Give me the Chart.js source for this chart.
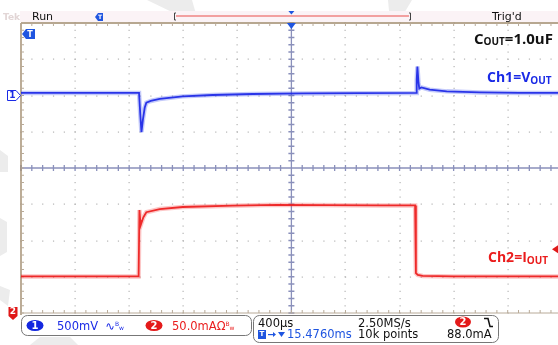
<!DOCTYPE html>
<html>
<head>
<meta charset="utf-8">
<script src="https://cdn.jsdelivr.net/npm/chart.js@4.4.1/dist/chart.umd.min.js"></script>
<style>
  html, body { margin: 0; padding: 0; background: #fff; }
  #scope_chart { display: block; }
</style>
</head>
<body>
<canvas id="scope_chart" width="558" height="345"></canvas>
<script>
// time is in microseconds from screen centre, 400 us/div
// Ch1 = V_OUT in mV (500 mV/div), Ch2 = I_OUT in mA (50 mA/div)

const ch1_time_us = [-2000, -1127, -1118, -1109, -1098, -1085, -1073, -1040, -974, -804, -582, -286, 84, 922, 927, 932, 940, 946, 961, 1023, 1149, 1393, 1688, 1972]
const ch1_mv = [35, 35, -250, -505, -330, -170, -100, -75, -48, -12, 7, 21, 29, 35, 220, 400, 180, 95, 112, 80, 57, 43, 36, 35]

const ch2_time_us = [-2000, -1130, -1124, -1118, -1113, -1095, -1073, -974, -804, -434, -109, 653, 915, 921, 935, 971, 1200, 1972]
const ch2_ma = [50.5, 50.5, 142, 128, 122, 132, 139, 143.4, 146.2, 148, 149.2, 148.4, 148.4, 55, 52.5, 51.2, 50.5, 50.5]

const x_div_us = [-2000, -1600, -1200, -800, -400, 0, 400, 800, 1200, 1600, 2000]
const ch1_div_mv = [-3000, -2500, -2000, -1500, -1000, -500, 0, 500, 1000]

const trigger_level_ma = 88

const ch1_points = ch1_time_us.map((t, i) => ({ x: t, y: ch1_mv[i] }))
const ch2_points = ch2_time_us.map((t, i) => ({ x: t, y: ch2_ma[i] }))

const BLUE = '#1a2ae6'
const RED = '#ea1c1c'
const UI_FONT = '"DejaVu Sans", sans-serif'
const LABEL_FONT = '"Open Sans", "DejaVu Sans", sans-serif'

// text with a subscript part, e.g. V + OUT
function draw_sub_text(ctx, x, y, parts, color) {
  ctx.fillStyle = color
  ctx.textAlign = 'left'
  ctx.textBaseline = 'alphabetic'
  parts.forEach(p => {
    ctx.font = p.font
    ctx.fillText(p.text, x, y + (p.dy || 0))
    x += ctx.measureText(p.text).width
  })
}

function oval_badge(ctx, cx, cy, rx, ry, fill, label) {
  ctx.fillStyle = fill
  ctx.beginPath()
  ctx.ellipse(cx, cy, rx, ry, 0, 0, Math.PI * 2)
  ctx.fill()
  ctx.fillStyle = '#fff'
  ctx.font = 'bold 10px ' + UI_FONT
  ctx.textAlign = 'center'
  ctx.textBaseline = 'middle'
  ctx.fillText(label, cx, cy + 0.5)
}

const scope_plugin = {
  id: 'scope',
  beforeDraw(chart) {
    const ctx = chart.ctx
    ctx.save()
    ctx.fillStyle = '#fff'
    ctx.fillRect(0, 0, chart.width, chart.height)

    // faint watermark behind everything
    ctx.fillStyle = '#ececec'
    const wm = [
      [[147, 0], [192, 0], [196, 14], [176, 14]],
      [[388, 0], [412, 0], [400, 20], [390, 22]],
      [[0, 150], [8, 156], [8, 172], [0, 172]],
      [[0, 218], [7, 222], [7, 252], [0, 256]],
      [[0, 286], [10, 290], [8, 306], [0, 300]],
      [[40, 337], [70, 337], [78, 345], [30, 345]]
    ]
    wm.forEach(poly => {
      ctx.beginPath()
      poly.forEach((p, i) => i ? ctx.lineTo(p[0], p[1]) : ctx.moveTo(p[0], p[1]))
      ctx.closePath()
      ctx.fill()
    })

    // status bar strip
    ctx.fillStyle = '#fbf3f6'
    ctx.fillRect(20, 11, 538, 11)
    ctx.restore()
  },
  beforeDatasetsDraw(chart) {
    const ctx = chart.ctx
    const area = chart.chartArea
    const xs = chart.scales.x
    const y1 = chart.scales.y1
    const div_w = xs.getPixelForValue(400) - xs.getPixelForValue(0)
    const div_h = y1.getPixelForValue(0) - y1.getPixelForValue(500)
    const cx = xs.getPixelForValue(0)
    const cy = y1.getPixelForValue(-1000)
    ctx.save()

    // dotted graticule
    ctx.fillStyle = '#b4b4b4'
    x_div_us.forEach(t => {
      const x = xs.getPixelForValue(t)
      if (t === -2000 || t === 0 || x > area.right) return
      for (let k = 0; k <= 40; k++) {
        ctx.fillRect(Math.round(x) - 0.5, area.top + k * div_h / 5 - 0.5, 1.2, 1.2)
      }
    })
    ch1_div_mv.forEach(v => {
      const y = y1.getPixelForValue(v)
      if (v === -1000 || v === 1000 || v === -3000) return
      for (let k = 0; k <= 55; k++) {
        const x = area.left + k * div_w / 5
        if (x > area.right) break
        ctx.fillRect(x - 0.5, Math.round(y) - 0.5, 1.2, 1.2)
      }
    })

    // centre cross with minor ticks
    ctx.strokeStyle = '#8a90bb'
    ctx.lineWidth = 1.3
    ctx.beginPath()
    ctx.moveTo(area.left, cy); ctx.lineTo(area.right, cy)
    ctx.moveTo(cx, area.top); ctx.lineTo(cx, area.bottom)
    for (let k = 0; k <= 55; k++) {
      const x = area.left + k * div_w / 5
      if (x > area.right) break
      ctx.moveTo(x, cy - 3); ctx.lineTo(x, cy + 3)
    }
    for (let k = 0; k <= 40; k++) {
      const y = area.top + k * div_h / 5
      ctx.moveTo(cx - 3, y); ctx.lineTo(cx + 3, y)
    }
    ctx.stroke()

    // frame with ticks
    ctx.strokeStyle = '#a08a6c'
    ctx.lineWidth = 1.4
    ctx.beginPath()
    ctx.moveTo(area.left, area.top); ctx.lineTo(area.right, area.top)
    ctx.moveTo(area.left, area.top); ctx.lineTo(area.left, area.bottom + 2)
    ctx.stroke()
    ctx.strokeStyle = '#b8aa98'
    ctx.lineWidth = 1
    ctx.beginPath()
    ctx.moveTo(area.left, area.bottom); ctx.lineTo(area.right, area.bottom)
    for (let k = 0; k <= 55; k++) {
      const x = area.left + k * div_w / 5
      if (x > area.right) break
      ctx.moveTo(x, area.top); ctx.lineTo(x, area.top + 3)
      ctx.moveTo(x, area.bottom); ctx.lineTo(x, area.bottom - 3)
    }
    for (let k = 0; k <= 40; k++) {
      const y = area.top + k * div_h / 5
      ctx.moveTo(area.left, y); ctx.lineTo(area.left + 3, y)
    }
    ctx.stroke()
    ctx.restore()
  },
  afterDraw(chart) {
    const ctx = chart.ctx
    const area = chart.chartArea
    const xs = chart.scales.x
    const y1 = chart.scales.y1
    const y2 = chart.scales.y2
    const cx = xs.getPixelForValue(0)
    ctx.save()

    // status bar
    ctx.fillStyle = '#e2d6d6'
    ctx.font = 'bold 9px ' + UI_FONT
    ctx.textAlign = 'left'
    ctx.textBaseline = 'alphabetic'
    ctx.fillText('Tek', 3, 20)
    ctx.fillStyle = '#111'
    ctx.font = '11px ' + UI_FONT
    ctx.fillText('Run', 32, 20)
    ctx.fillText("Trig'd", 492, 20)

    // record bar
    ctx.strokeStyle = '#f2a0a0'
    ctx.lineWidth = 2
    ctx.beginPath(); ctx.moveTo(176, 16); ctx.lineTo(409, 16); ctx.stroke()
    ctx.strokeStyle = '#444'
    ctx.lineWidth = 1
    ctx.beginPath()
    ctx.moveTo(176, 13); ctx.lineTo(174.5, 13); ctx.lineTo(174.5, 20); ctx.lineTo(176, 20)
    ctx.moveTo(409, 13); ctx.lineTo(410.5, 13); ctx.lineTo(410.5, 20); ctx.lineTo(409, 20)
    ctx.stroke()

    // trigger position markers
    ctx.fillStyle = '#1f55e0'
    ctx.beginPath(); ctx.moveTo(cx - 3, 11); ctx.lineTo(cx + 3, 11); ctx.lineTo(cx, 14.5); ctx.fill()
    ctx.beginPath(); ctx.moveTo(cx - 4.5, area.top); ctx.lineTo(cx + 4.5, area.top); ctx.lineTo(cx, area.top + 6); ctx.fill()
    ctx.beginPath()
    ctx.moveTo(95, 17); ctx.lineTo(98, 13); ctx.lineTo(103, 13); ctx.lineTo(103, 21); ctx.lineTo(98, 21); ctx.closePath(); ctx.fill()
    ctx.beginPath()
    ctx.moveTo(22, 34); ctx.lineTo(26, 29); ctx.lineTo(35, 29); ctx.lineTo(35, 39); ctx.lineTo(26, 39); ctx.closePath(); ctx.fill()
    ctx.fillStyle = '#fff'
    ctx.font = 'bold 8px ' + UI_FONT
    ctx.textAlign = 'center'
    ctx.textBaseline = 'middle'
    ctx.fillText('T', 30, 34.5)
    ctx.font = 'bold 6px ' + UI_FONT
    ctx.fillText('T', 100, 17.5)

    // channel 1 ground marker
    const g1 = y1.getPixelForValue(0)
    ctx.strokeStyle = BLUE
    ctx.fillStyle = '#fff'
    ctx.lineWidth = 1
    ctx.beginPath()
    ctx.moveTo(7.5, g1 - 5); ctx.lineTo(16, g1 - 5); ctx.lineTo(20.5, g1); ctx.lineTo(16, g1 + 5); ctx.lineTo(7.5, g1 + 5); ctx.closePath()
    ctx.fill(); ctx.stroke()
    ctx.fillStyle = BLUE
    ctx.font = 'bold 9px ' + UI_FONT
    ctx.fillText('1', 12.5, g1 + 0.5)

    // channel 2 ground marker
    const g2 = y2.getPixelForValue(0)
    ctx.fillStyle = '#e01818'
    ctx.beginPath()
    ctx.moveTo(8.5, g2 - 6); ctx.lineTo(17.5, g2 - 6); ctx.lineTo(17.5, g2 + 3); ctx.lineTo(13, g2 + 7); ctx.lineTo(8.5, g2 + 3); ctx.closePath(); ctx.fill()
    ctx.fillStyle = '#fff'
    ctx.font = 'bold 9px ' + UI_FONT
    ctx.fillText('2', 13, g2 - 1)

    // trigger level arrow
    const tl = y2.getPixelForValue(trigger_level_ma)
    ctx.fillStyle = '#e01818'
    ctx.beginPath(); ctx.moveTo(552, tl); ctx.lineTo(558, tl - 4); ctx.lineTo(558, tl + 4); ctx.fill()

    // annotations
    const big = 'bold 15px ' + LABEL_FONT
    const mid = 'bold 14px ' + LABEL_FONT
    const sub = 'bold 10px ' + LABEL_FONT
    draw_sub_text(ctx, 474, 44, [{ text: 'C', font: big }, { text: 'OUT', font: sub, dy: 1 }, { text: '=1.0uF', font: big }], '#111')
    draw_sub_text(ctx, 487, 82, [{ text: 'Ch1=V', font: mid }, { text: 'OUT', font: sub, dy: 2 }], BLUE)
    draw_sub_text(ctx, 488, 262, [{ text: 'Ch2=I', font: mid }, { text: 'OUT', font: sub, dy: 2 }], RED)

    // readout boxes
    ctx.strokeStyle = '#777'
    ctx.lineWidth = 1
    ctx.beginPath(); ctx.roundRect(21.5, 315.5, 230, 20, 6); ctx.stroke()
    ctx.beginPath(); ctx.roundRect(253.5, 315.5, 245, 27, 6); ctx.stroke()

    oval_badge(ctx, 35, 325.5, 8.5, 5.5, '#1428e0', '1')
    oval_badge(ctx, 154, 325.5, 8.5, 5.5, '#e41a1a', '2')
    oval_badge(ctx, 463, 322, 8, 5.5, '#e41a1a', '2')

    const ui = '11.5px ' + UI_FONT
    const tiny = '6px ' + UI_FONT
    draw_sub_text(ctx, 57, 330, [{ text: '500mV', font: ui }, { text: '  \u223F', font: ui }, { text: 'B', font: tiny, dy: -4 }, { text: 'w', font: tiny }], BLUE)
    draw_sub_text(ctx, 172, 330, [{ text: '50.0mA\u03A9', font: ui }, { text: 'B', font: tiny, dy: -4 }, { text: 'w', font: tiny }], RED)

    draw_sub_text(ctx, 258, 327, [{ text: '400\u00B5s', font: ui }], '#111')
    draw_sub_text(ctx, 358, 327, [{ text: '2.50MS/s', font: ui }], '#111')
    draw_sub_text(ctx, 358, 338, [{ text: '10k points', font: ui }], '#111')
    draw_sub_text(ctx, 447, 338, [{ text: '88.0mA', font: ui }], '#111')

    // falling edge trigger glyph
    ctx.strokeStyle = '#111'
    ctx.lineWidth = 1.5
    ctx.beginPath(); ctx.moveTo(484, 318.5); ctx.lineTo(488, 318.5); ctx.lineTo(490, 326.5); ctx.lineTo(493, 326.5); ctx.stroke()

    // horizontal position readout
    ctx.fillStyle = '#1f55e0'
    ctx.fillRect(258, 330, 8, 9)
    ctx.fillStyle = '#fff'
    ctx.font = 'bold 7px ' + UI_FONT
    ctx.textAlign = 'center'
    ctx.textBaseline = 'middle'
    ctx.fillText('T', 262, 334.5)
    ctx.fillStyle = '#1f55e0'
    ctx.fillRect(268, 334, 5, 1.2)
    ctx.beginPath(); ctx.moveTo(273, 332); ctx.lineTo(276, 334.5); ctx.lineTo(273, 337); ctx.fill()
    ctx.beginPath(); ctx.moveTo(278, 332); ctx.lineTo(285, 332); ctx.lineTo(281.5, 337); ctx.fill()
    draw_sub_text(ctx, 287, 338, [{ text: '15.4760ms', font: ui }], '#1f55e0')

    ctx.restore()
  }
}

const ctx = document.getElementById('scope_chart').getContext('2d')

const scope_chart = new Chart(ctx, {
  type: 'line',
  data: {
    datasets: [
      {
        label: 'Ch1 core',
        data: ch1_points,
        yAxisID: 'y1',
        borderColor: 'rgba(24, 36, 230, 0.9)',
        borderWidth: 1.8,
        pointRadius: 0,
        tension: 0
      },
      {
        label: 'Ch1 band',
        data: ch1_points,
        yAxisID: 'y1',
        borderColor: 'rgba(60, 80, 240, 0.3)',
        borderWidth: 4.5,
        pointRadius: 0,
        tension: 0
      },
      {
        label: 'Ch2 core',
        data: ch2_points,
        yAxisID: 'y2',
        borderColor: 'rgba(236, 24, 24, 0.9)',
        borderWidth: 1.8,
        pointRadius: 0,
        tension: 0
      },
      {
        label: 'Ch2 band',
        data: ch2_points,
        yAxisID: 'y2',
        borderColor: 'rgba(245, 70, 70, 0.3)',
        borderWidth: 4.5,
        pointRadius: 0,
        tension: 0
      }
    ]
  },
  options: {
    responsive: false,
    animation: false,
    parsing: false,
    layout: { padding: { left: 21, top: 23, right: 0, bottom: 32 } },
    plugins: {
      legend: { display: false },
      tooltip: { enabled: false }
    },
    scales: {
      x: { type: 'linear', min: -2000, max: 1972, display: false },
      y1: { type: 'linear', min: -3000, max: 1000, display: false },
      y2: { type: 'linear', min: 0, max: 400, display: false }
    }
  },
  plugins: [scope_plugin]
})
</script>
</body>
</html>
